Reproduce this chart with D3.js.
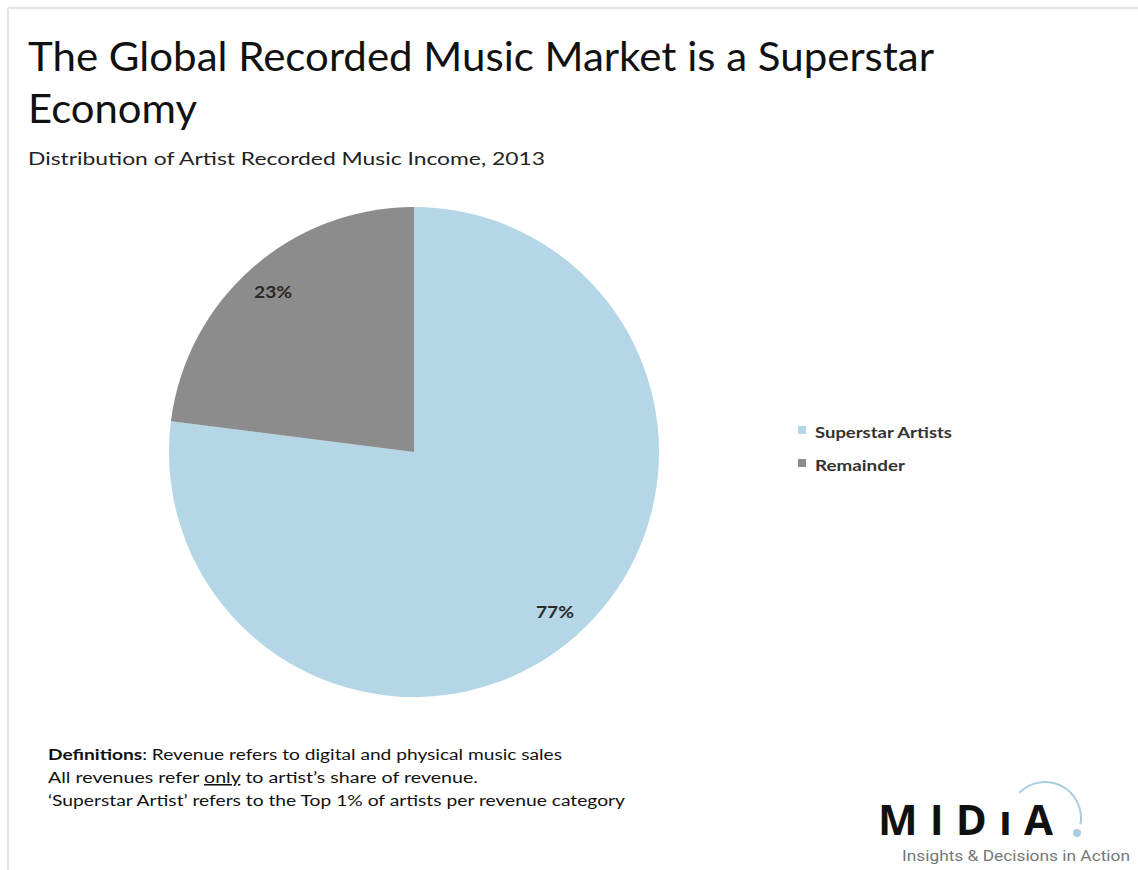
<!DOCTYPE html>
<html>
<head>
<meta charset="utf-8">
<script src="https://cdn.jsdelivr.net/npm/d3@7/dist/d3.min.js"></script>
<style>
  html, body { margin: 0; padding: 0; background: #ffffff; }
  svg { display: block; }
</style>
</head>
<body>
<svg id="chart" width="1138" height="870"></svg>
<script>
// Income shares, 2013
const categories = ["Superstar Artists", "Remainder"];
const shares = [77, 23];
const shareLabels = ["77%", "23%"];
const colors = ["#b5d6e7", "#8c8c8c"];

const titleLines = ["The Global Recorded Music Market is a Superstar", "Economy"];
const subtitle = "Distribution of Artist Recorded Music Income, 2013";

const svg = d3.select("#chart");
const W = 1138, H = 870;
const font = "Lato, 'Open Sans', 'DejaVu Sans', sans-serif";

// frame lines along the top and left
svg.append("line").attr("x1", 8).attr("x2", W).attr("y1", 8).attr("y2", 8)
  .attr("stroke", "#e4e4e4").attr("stroke-width", 2);
svg.append("line").attr("x1", 8).attr("x2", 8).attr("y1", 8).attr("y2", H)
  .attr("stroke", "#e4e4e4").attr("stroke-width", 2);

// title block
const titleG = svg.append("g").attr("font-family", font).attr("fill", "#111");
titleG.append("text").attr("x", 28).attr("y", 71).attr("font-size", 40)
  .attr("textLength", 906).attr("lengthAdjust", "spacingAndGlyphs").text(titleLines[0]);
titleG.append("text").attr("x", 28).attr("y", 123).attr("font-size", 40)
  .attr("textLength", 169).attr("lengthAdjust", "spacingAndGlyphs").text(titleLines[1]);
titleG.append("text").attr("x", 28).attr("y", 165).attr("font-size", 18).attr("fill", "#222")
  .attr("textLength", 517).attr("lengthAdjust", "spacingAndGlyphs").text(subtitle);

// pie
const cx = 414, cy = 452, r = 245;
const data = categories.map((c, i) => ({ name: c, value: shares[i], label: shareLabels[i], color: colors[i] }));
const pie = d3.pie().value(d => d.value).sort(null).startAngle(0).endAngle(2 * Math.PI);
const arcs = pie(data);
const arc = d3.arc().innerRadius(0).outerRadius(r);
const labelArc = d3.arc().innerRadius(r * 0.87).outerRadius(r * 0.87);

const pieG = svg.append("g").attr("transform", `translate(${cx},${cy})`);
pieG.selectAll("path").data(arcs).join("path")
  .attr("d", arc).attr("fill", d => d.data.color);
pieG.selectAll("text").data(arcs).join("text")
  .attr("transform", d => `translate(${labelArc.centroid(d)})`)
  .attr("text-anchor", "middle").attr("dy", "0.35em")
  .attr("font-family", font).attr("font-size", 17).attr("font-weight", 700)
  .attr("fill", "#2a2a2a").attr("textLength", 38).attr("lengthAdjust", "spacingAndGlyphs")
  .text(d => d.data.label);

// legend
const legendWidths = [137, 90];
const legend = svg.append("g").attr("transform", "translate(798,426)");
const items = legend.selectAll("g").data(data).join("g")
  .attr("transform", (d, i) => `translate(0,${i * 33})`);
items.append("rect").attr("width", 8).attr("height", 8).attr("fill", d => d.color);
items.append("text").attr("x", 17).attr("y", 12)
  .attr("font-family", font).attr("font-size", 16).attr("font-weight", 700).attr("fill", "#333")
  .attr("textLength", (d, i) => legendWidths[i]).attr("lengthAdjust", "spacingAndGlyphs")
  .text(d => d.name);

// definitions note
const noteG = svg.append("g").attr("font-family", font).attr("font-size", 15.5).attr("fill", "#111");
const n1 = noteG.append("text").attr("x", 48).attr("y", 760)
  .attr("textLength", 514).attr("lengthAdjust", "spacingAndGlyphs");
n1.append("tspan").attr("font-weight", 700).text("Definitions");
n1.append("tspan").text(": Revenue refers to digital and physical music sales");
const n2 = noteG.append("text").attr("x", 48).attr("y", 783)
  .attr("textLength", 430).attr("lengthAdjust", "spacingAndGlyphs");
n2.append("tspan").text("All revenues refer ");
n2.append("tspan").attr("text-decoration", "underline").text("only");
n2.append("tspan").text(" to artist\u2019s share of revenue.");
noteG.append("text").attr("x", 48).attr("y", 806)
  .attr("textLength", 577).attr("lengthAdjust", "spacingAndGlyphs")
  .text("\u2018Superstar Artist\u2019 refers to the Top 1% of artists per revenue category");

// logo
const logo = svg.append("g");
logo.append("text").attr("x", 878).attr("y", 835)
  .attr("font-family", "'Open Sans', 'DejaVu Sans', sans-serif").attr("font-size", 42).attr("font-weight", 700)
  .attr("fill", "#111").attr("textLength", 175).attr("lengthAdjust", "spacing").text("MIDıA");
const logoArc = d3.arc().innerRadius(35).outerRadius(37)
  .startAngle(-0.8).endAngle(1.75);
logo.append("path").attr("transform", "translate(1045,818)").attr("d", logoArc()).attr("fill", "#a9cde3");
logo.append("circle").attr("cx", 1077).attr("cy", 833).attr("r", 4).attr("fill", "#a9cde3");
logo.append("text").attr("x", 902).attr("y", 861)
  .attr("font-family", "Roboto, 'Liberation Sans', sans-serif").attr("font-size", 14).attr("fill", "#777")
  .attr("textLength", 228).attr("lengthAdjust", "spacingAndGlyphs").text("Insights & Decisions in Action");
</script>
</body>
</html>
